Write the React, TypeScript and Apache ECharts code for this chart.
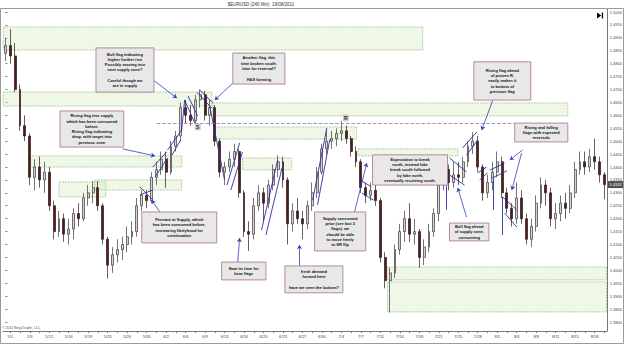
import React, { useEffect, useRef } from 'react';
import * as echarts from 'echarts';

const FONT = '"Liberation Sans", Arial, sans-serif';

const tickLabels = ['5/5','5/9','5/12','5/16','5/19','5/23','5/26','5/30','6/2','6/6','6/9','6/13','6/16','6/20','6/23','6/27','6/30','7/4','7/7','7/11','7/14','7/18','7/21','7/25','7/28','8/1','8/4','8/8','8/11','8/15','8/18'];

const opens = [
1.4840,1.4870,1.4830,1.4700,1.4560,1.4520,1.4360,1.4400,1.4350,1.4380,
1.4250,1.4150,1.4200,1.4140,1.4160,1.4220,1.4200,1.4280,1.4300,1.4320,
1.4250,1.4120,1.4020,1.4060,1.4080,1.4100,1.4130,1.4150,1.4250,1.4290,
1.4270,1.4360,1.4390,1.4430,1.4380,1.4480,1.4520,1.4630,1.4600,1.4580,
1.4660,1.4680,1.4600,1.4630,1.4500,1.4380,1.4400,1.4430,1.4460,1.4300,
1.4150,1.4140,1.4250,1.4300,1.4260,1.4330,1.4390,1.4420,1.4350,1.4180,
1.4230,1.4200,1.4180,1.4250,1.4300,1.4380,1.4470,1.4500,1.4510,1.4530,
1.4540,1.4510,1.4460,1.4420,1.4320,1.4290,1.4310,1.4270,1.4050,1.3960,
1.3990,1.4080,1.4150,1.4200,1.4140,1.4150,1.4050,1.4090,1.4150,1.4220,
1.4330,1.4390,1.4340,1.4370,1.4360,1.4420,1.4480,1.4500,1.4400,1.4300,
1.4340,1.4380,1.4420,1.4300,1.4240,1.4200,1.4280,1.4200,1.4120,1.4170,
1.4260,1.4330,1.4300,1.4200,1.4220,1.4260,1.4240,1.4300,1.4390,1.4420,
1.4400,1.4440,1.4420,1.4370];

const closes = [
1.4870,1.4830,1.4700,1.4560,1.4520,1.4360,1.4400,1.4350,1.4380,1.4250,
1.4150,1.4200,1.4140,1.4160,1.4220,1.4200,1.4280,1.4300,1.4320,1.4250,
1.4120,1.4020,1.4060,1.4080,1.4100,1.4130,1.4150,1.4250,1.4290,1.4270,
1.4360,1.4390,1.4430,1.4380,1.4480,1.4520,1.4630,1.4600,1.4580,1.4660,
1.4680,1.4600,1.4630,1.4500,1.4380,1.4400,1.4430,1.4460,1.4300,1.4150,
1.4140,1.4250,1.4300,1.4260,1.4330,1.4390,1.4420,1.4350,1.4180,1.4230,
1.4200,1.4180,1.4250,1.4300,1.4380,1.4470,1.4500,1.4510,1.4530,1.4540,
1.4510,1.4460,1.4420,1.4320,1.4290,1.4310,1.4270,1.4050,1.3960,1.3990,
1.4080,1.4150,1.4200,1.4140,1.4150,1.4050,1.4090,1.4150,1.4220,1.4330,
1.4390,1.4340,1.4370,1.4360,1.4420,1.4480,1.4500,1.4400,1.4300,1.4340,
1.4380,1.4420,1.4300,1.4240,1.4200,1.4280,1.4200,1.4120,1.4170,1.4260,
1.4330,1.4300,1.4200,1.4220,1.4260,1.4240,1.4300,1.4390,1.4420,1.4400,
1.4440,1.4420,1.4370,1.4332];

const lows = [
1.4810,1.4800,1.4690,1.4540,1.4500,1.4330,1.4310,1.4320,1.4300,1.4230,
1.4120,1.4130,1.4110,1.4100,1.4120,1.4170,1.4190,1.4250,1.4260,1.4230,
1.4100,1.3968,1.3990,1.4030,1.4040,1.4070,1.4100,1.4130,1.4230,1.4240,
1.4260,1.4330,1.4370,1.4320,1.4370,1.4460,1.4500,1.4570,1.4560,1.4560,
1.4630,1.4580,1.4560,1.4480,1.4360,1.4330,1.4380,1.4400,1.4280,1.4130,
1.4075,1.4120,1.4230,1.4190,1.4240,1.4310,1.4360,1.4320,1.4100,1.4150,
1.4180,1.4120,1.4160,1.4230,1.4280,1.4370,1.4450,1.4470,1.4480,1.4500,
1.4490,1.4440,1.4400,1.4300,1.4260,1.4270,1.4250,1.4030,1.3930,1.3837,
1.3970,1.4060,1.4110,1.4110,1.4100,1.4010,1.4020,1.4070,1.4130,1.4190,
1.4310,1.4310,1.4320,1.4330,1.4340,1.4400,1.4450,1.4380,1.4270,1.4280,
1.4310,1.4360,1.4280,1.4220,1.4170,1.4180,1.4180,1.4100,1.4090,1.4150,
1.4240,1.4250,1.4170,1.4160,1.4190,1.4200,1.4220,1.4280,1.4370,1.4370,
1.4380,1.4390,1.4340,1.4275];

const highs = [
1.4900,1.4934,1.4880,1.4720,1.4600,1.4530,1.4430,1.4440,1.4420,1.4400,
1.4270,1.4230,1.4220,1.4200,1.4240,1.4260,1.4300,1.4330,1.4345,1.4345,
1.4260,1.4130,1.4090,1.4120,1.4130,1.4170,1.4190,1.4280,1.4310,1.4310,
1.4380,1.4420,1.4460,1.4460,1.4500,1.4540,1.4650,1.4660,1.4640,1.4680,
1.4700,1.4695,1.4660,1.4640,1.4510,1.4420,1.4460,1.4490,1.4470,1.4310,
1.4190,1.4280,1.4330,1.4320,1.4350,1.4410,1.4445,1.4440,1.4360,1.4260,
1.4280,1.4230,1.4270,1.4340,1.4400,1.4490,1.4540,1.4540,1.4550,1.4578,
1.4560,1.4520,1.4480,1.4430,1.4340,1.4340,1.4350,1.4280,1.4070,1.4010,
1.4100,1.4180,1.4230,1.4260,1.4200,1.4160,1.4120,1.4180,1.4240,1.4350,
1.4410,1.4410,1.4420,1.4420,1.4440,1.4500,1.4535,1.4520,1.4410,1.4370,
1.4420,1.4460,1.4440,1.4320,1.4260,1.4340,1.4310,1.4220,1.4200,1.4290,
1.4360,1.4350,1.4320,1.4260,1.4290,1.4300,1.4330,1.4420,1.4460,1.4460,
1.4470,1.4510,1.4440,1.4380];

// supply / demand zones: [startBar, endBar, topPrice, bottomPrice]
const zones = [
  [-0.45, 85.7, 1.4942, 1.4853],
  [-0.45, 42.4, 1.4690, 1.4636],
  [42.6, 115.5, 1.4648, 1.4598],
  [4.8, 36.2, 1.4443, 1.4400],
  [11.0, 20.6, 1.4342, 1.4284],
  [18.3, 36.2, 1.4350, 1.4311],
  [43.0, 72.1, 1.4555, 1.4508],
  [48.7, 58.8, 1.4435, 1.4389],
  [72.4, 92.9, 1.4470, 1.4443],
  [78.5, 123.45, 1.4013, 1.3963],
  [78.5, 123.45, 1.3955, 1.3839],
];

// flag trend lines: [bar1, price1, bar2, price2]
const flagLines = [
  [27.6,1.4323,30.3,1.4272],[27.6,1.4292,30.3,1.4311],
  [30.3,1.4400,33.1,1.4458],[30.7,1.4361,33.3,1.4435],
  [33.3,1.4466,36.2,1.4543],[34.2,1.4446,36.0,1.4505],
  [36.2,1.4543,36.8,1.4659],[36.8,1.4659,38.9,1.4570],
  [37.5,1.4675,39.5,1.4597],[39.3,1.4690,42.4,1.4628],
  [39.9,1.4698,42.6,1.4648],[42.0,1.4632,45.0,1.4350],
  [45.5,1.4330,48.1,1.4493],[46.3,1.4311,48.7,1.4458],
  [52.6,1.4156,55.9,1.4427],[53.5,1.4137,56.8,1.4396],
  [63.1,1.4272,66.0,1.4551],[64.1,1.4253,66.6,1.4505],
  [72.8,1.4350,75.2,1.4323],[73.2,1.4299,75.6,1.4272],
  [90.6,1.4435,90.6,1.4234],[91.2,1.4435,94.7,1.4381],
  [91.2,1.4369,94.3,1.4330],[93.9,1.4474,96.8,1.4535],
  [94.7,1.4446,97.0,1.4505],[97.0,1.4377,98.8,1.4400],
  [97.4,1.4350,99.0,1.4377],[99.5,1.4388,102.5,1.4415],
  [99.9,1.4357,103.0,1.4385],[100.1,1.4350,100.1,1.4234],
  [102.1,1.4284,105.0,1.4234],[102.5,1.4222,105.0,1.4168],
  [102.1,1.4284,102.1,1.4137],
];

// pointer arrows from notes: [barFrom, priceFrom, barTo, priceTo]
const arrows = [
  [30.05,1.4741,35.2,1.4667],
  [24.1,1.4470,30.7,1.4443],
  [46.7,1.4725,43.0,1.4659],
  [31.7,1.4226,30.05,1.4272],
  [47.7,1.4032,48.1,1.4125],
  [60.4,1.4017,60.4,1.4098],
  [71.7,1.4226,74.2,1.4415],
  [94.7,1.4206,92.9,1.4319],
  [100.1,1.4659,97.8,1.4543],
  [106.2,1.4466,103.6,1.4427],
  [106.0,1.4454,104.0,1.4311],
];

const srLine = [31.1, 1.4570, 112.8, 1.4570];
const srMarks = [[39.5, 1.4555], [69.9, 1.4590]];
const srTexts = ['S', 'R'];

// note boxes: [startBar, endBar, topPrice, bottomPrice]
const callouts = [
  [18.6, 30.5, 1.4861, 1.4690],
  [46.7, 57.4, 1.4841, 1.4721],
  [11.2, 24.3, 1.4617, 1.4477],
  [28.0, 43.4, 1.4226, 1.4106],
  [44.4, 53.5, 1.4032, 1.3963],
  [57.4, 69.3, 1.4017, 1.3913],
  [63.5, 74.0, 1.4226, 1.4075],
  [75.4, 90.8, 1.4447, 1.4330],
  [91.2, 99.3, 1.4183, 1.4114],
  [96.2, 107.9, 1.4807, 1.4659],
  [104.6, 115.5, 1.4570, 1.4497],
];
const calloutTexts = [
  'Bull flag indicating\nhigher further rise\nPossibly moving into\nnext supply zone?\n\nCareful though we\nare in supply',
  'Another flag, this\ntime broken south,\ntime for reversal?\n\nH&S forming',
  'Rising flag into supply\nwhich has been consumed\nbefore.\nRising flag indicating\ndrop, with target into\nprevious zone',
  'Pennant at Supply, which\nhas been consumed before,\nincreasing likelyhood for\ncontinuation',
  'Now its time for\nbear flags',
  'fresh demand\nformed here\n\nhave we seen the bottom?',
  'Supply consumed\nprior (see last 2\nflags), we\nshould be able\nto move freely\nto SR flip',
  'Expectation to break\nnorth, instead fake\nbreak south followed\nby fake north,\neventually resolving south.',
  'Bull flag ahead\nof supply zone,\nconsuming',
  'Rising flag ahead\nof proven R,\neasily makes it\nto bottom of\nprevious flag',
  'Rising and falling\nflags with expected\nreversals',
];

const categories = opens.map((_, i) => (i % 4 === 1 ? tickLabels[(i - 1) / 4] : ''));

export default function App() {
  const ref = useRef<HTMLDivElement>(null);
  useEffect(() => {
    if (!ref.current) return;
    const chart = echarts.init(ref.current, undefined, { renderer: 'svg' });
    const n = opens.length;
    const option: any = {
      animation: false,
      backgroundColor: '#ffffff',
      grid: { left: 3, right: 18, top: 12, bottom: 23, containLabel: false },
      xAxis: [
        {
          type: 'category',
          data: categories,
          boundaryGap: true,
          position: 'bottom',
          offset: 9,
          axisLine: { show: true, lineStyle: { color: '#777', width: 1 } },
          axisTick: { show: true, interval: (i: number) => i % 2 === 1, alignWithLabel: true, length: 2, lineStyle: { color: '#777' } },
          axisLabel: { interval: (i: number) => i % 4 === 1, fontSize: 4, color: '#444', margin: 3, fontFamily: FONT },
          splitLine: { show: false },
        },
        { type: 'value', min: -0.5, max: n - 0.5, show: false },
      ],
      yAxis: {
        type: 'value',
        position: 'right',
        min: 1.38,
        max: 1.5,
        interval: 0.005,
        axisLine: { show: false },
        axisTick: { show: true, length: 2, lineStyle: { color: '#777' } },
        axisLabel: { formatter: (v: number) => v.toFixed(4), fontSize: 4, color: '#444', margin: 3, fontFamily: FONT },
        splitLine: { show: false },
      },
      graphic: [
        { id: 'title', type: 'text', x: 261, y: 4.5, silent: true, style: { text: '$EURUSD (240 Min)  19/08/2011', fontSize: 4.5, fontFamily: FONT, fill: '#333', align: 'center', verticalAlign: 'middle' } },
        { id: 'frame', type: 'rect', silent: true, shape: { x: 0.5, y: 8.5, width: 623, height: 335 }, style: { fill: 'rgba(0,0,0,0)', stroke: '#9a9a9a', lineWidth: 1 } },
        { id: 'yline', type: 'line', silent: true, shape: { x1: 607.5, y1: 9, x2: 607.5, y2: 331.5 }, style: { stroke: '#777', lineWidth: 1 } },
        { id: 'copy', type: 'text', silent: true, x: 2, y: 327.5, style: { text: '\u00a9 2011 NinjaTrader, LLC', fontSize: 3.5, fontFamily: FONT, fill: '#555', verticalAlign: 'middle' } },
        { id: 'play', type: 'polygon', silent: true, shape: { points: [[597, 12.5], [597, 18.5], [601.3, 15.5]] }, style: { fill: '#000' } },
        { id: 'playbar', type: 'rect', silent: true, shape: { x: 601.8, y: 12.5, width: 1.3, height: 6 }, style: { fill: '#000' } },
      ],
      series: [
        {
          type: 'custom',
          name: 'zones',
          xAxisIndex: 1,
          yAxisIndex: 0,
          z: 1,
          silent: true,
          encode: { x: [0, 1], y: [2, 3] },
          data: zones,
          renderItem: (params: any, api: any) => {
            const a = api.coord([api.value(0), api.value(2)]);
            const b = api.coord([api.value(1), api.value(3)]);
            return {
              type: 'rect',
              shape: { x: a[0], y: a[1], width: b[0] - a[0], height: b[1] - a[1] },
              style: { fill: 'rgba(214,234,190,0.38)', stroke: '#a3c295', lineWidth: 0.8, lineDash: [2, 1] },
            };
          },
        },
        {
          type: 'candlestick',
          xAxisIndex: 0,
          yAxisIndex: 0,
          z: 2,
          barWidth: 2.4,
          data: opens.map((o, i) => [o, closes[i], lows[i], highs[i]]),
          itemStyle: { color: '#d4d4d4', color0: '#561c1c', borderColor: '#3a3a3a', borderColor0: '#2a1818', borderWidth: 0.7 },
        },
        {
          type: 'lines',
          coordinateSystem: 'cartesian2d',
          xAxisIndex: 1,
          yAxisIndex: 0,
          z: 3,
          silent: true,
          symbol: 'none',
          lineStyle: { color: '#2b2ba8', width: 0.9, opacity: 1 },
          data: flagLines.map((f) => ({ coords: [[f[0], f[1]], [f[2], f[3]]] })),
        },
        {
          type: 'lines',
          coordinateSystem: 'cartesian2d',
          xAxisIndex: 1,
          yAxisIndex: 0,
          z: 3,
          silent: true,
          symbol: 'none',
          lineStyle: { color: '#9b86b5', width: 0.9, type: 'dashed', opacity: 1 },
          data: [{ coords: [[srLine[0], srLine[1]], [srLine[2], srLine[3]]] }],
        },
        {
          type: 'lines',
          coordinateSystem: 'cartesian2d',
          xAxisIndex: 1,
          yAxisIndex: 0,
          z: 4,
          silent: true,
          symbol: ['none', 'arrow'],
          symbolSize: 4,
          lineStyle: { color: '#3a3ab8', width: 0.8, opacity: 1 },
          data: arrows.map((f) => ({ coords: [[f[0], f[1]], [f[2], f[3]]] })),
        },
        {
          type: 'custom',
          name: 'sr',
          xAxisIndex: 1,
          yAxisIndex: 0,
          z: 5,
          silent: true,
          encode: { x: 0, y: 1 },
          data: srMarks,
          renderItem: (params: any, api: any) => {
            const p = api.coord([api.value(0), api.value(1)]);
            return {
              type: 'group',
              children: [
                { type: 'rect', shape: { x: p[0] - 2.5, y: p[1] - 3, width: 5, height: 6 }, style: { fill: '#dcdcdc', stroke: '#aaa', lineWidth: 0.5 } },
                { type: 'text', style: { text: srTexts[params.dataIndex], x: p[0], y: p[1], align: 'center', verticalAlign: 'middle', fontSize: 5, fontWeight: 'bold', fontFamily: FONT, fill: '#222' } },
              ],
            };
          },
        },
        {
          type: 'custom',
          name: 'notes',
          xAxisIndex: 1,
          yAxisIndex: 0,
          z: 6,
          silent: true,
          encode: { x: [0, 1], y: [2, 3] },
          data: callouts,
          renderItem: (params: any, api: any) => {
            const a = api.coord([api.value(0), api.value(2)]);
            const b = api.coord([api.value(1), api.value(3)]);
            return {
              type: 'group',
              children: [
                { type: 'rect', shape: { x: a[0], y: a[1], width: b[0] - a[0], height: b[1] - a[1] }, style: { fill: '#e8e8e8', stroke: '#b5899c', lineWidth: 1 } },
                {
                  type: 'text',
                  style: {
                    text: calloutTexts[params.dataIndex],
                    x: (a[0] + b[0]) / 2,
                    y: (a[1] + b[1]) / 2,
                    align: 'center',
                    verticalAlign: 'middle',
                    fontSize: 4,
                    fontWeight: 'bold',
                    fontFamily: FONT,
                    lineHeight: 5.3,
                    fill: '#111',
                  },
                },
              ],
            };
          },
        },
      ],
    };
    chart.setOption(option);
    const last = closes[closes.length - 1];
    const py = chart.convertToPixel({ yAxisIndex: 0 }, last) as number;
    chart.setOption({
      graphic: [
        { id: 'pbox', type: 'rect', z: 100, silent: true, shape: { x: 608, y: py - 3.5, width: 15, height: 7 }, style: { fill: '#505050' } },
        { id: 'ptext', type: 'text', z: 101, silent: true, x: 615.5, y: py, style: { text: last.toFixed(4), fill: '#fff', fontSize: 4, fontFamily: FONT, align: 'center', verticalAlign: 'middle' } },
      ],
    });
    return () => chart.dispose();
  }, []);
  return <div ref={ref} style={{ position: 'fixed', left: 0, top: 0, width: 625, height: 345 }} />;
}
